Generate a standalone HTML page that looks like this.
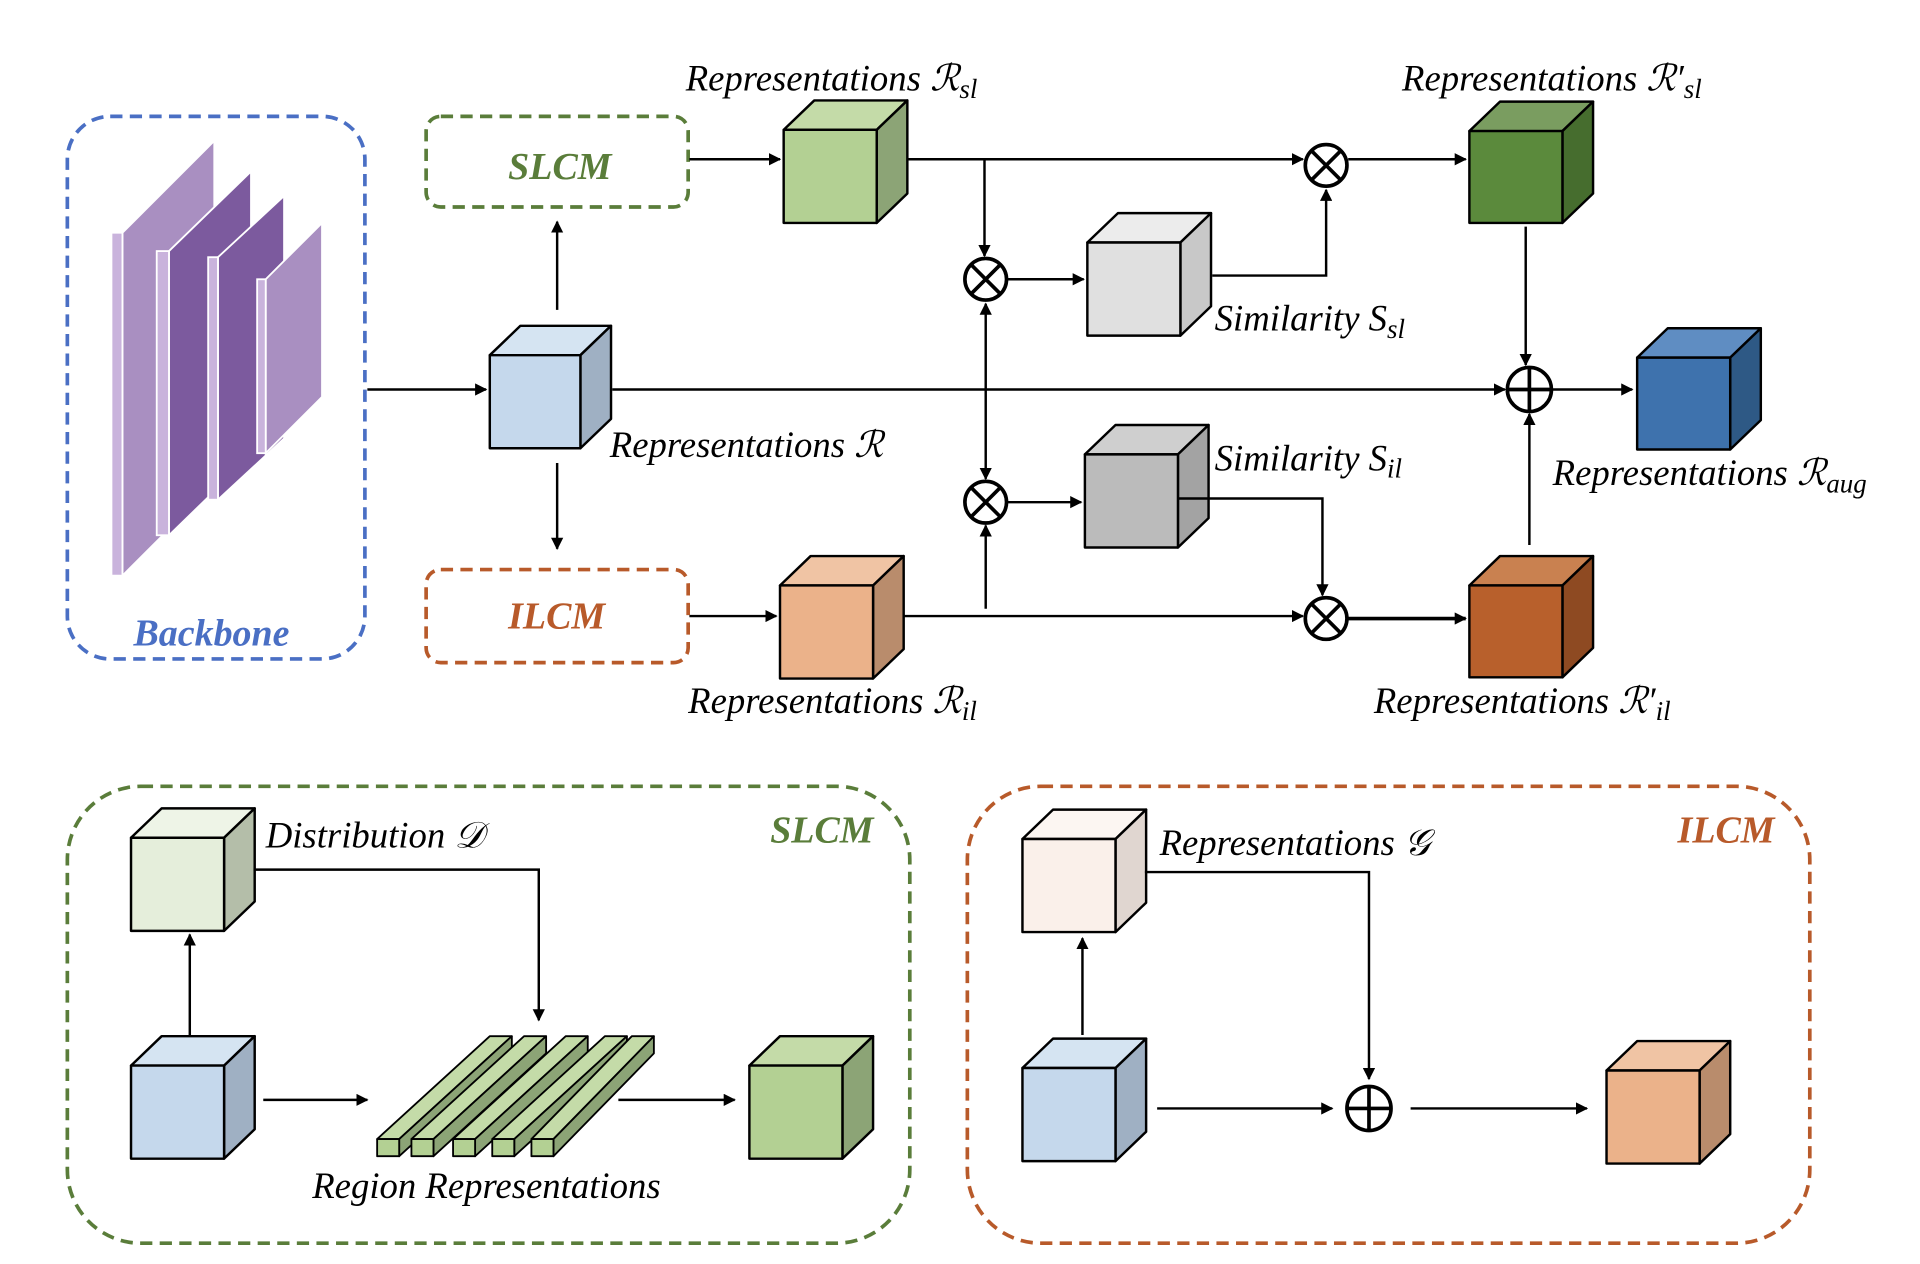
<!DOCTYPE html>
<html><head><meta charset="utf-8"><style>html,body{margin:0;padding:0;background:#fff}svg{display:block}
text{font-family:"Liberation Serif","DejaVu Serif",serif;font-style:italic;font-size:30px;fill:#000}
.b{font-weight:bold;font-size:31px}</style></head><body>
<svg width="1920" height="1264" viewBox="0 0 1568 1032" preserveAspectRatio="none" xmlns="http://www.w3.org/2000/svg">
<defs><marker id="a" markerWidth="10" markerHeight="10" refX="9" refY="5" orient="auto" markerUnits="userSpaceOnUse"><path d="M0,0 L10,5 L0,10 z" fill="#000"/></marker></defs>
<g fill="none" stroke-width="3" stroke-dasharray="10 6">
<rect x="55" y="95" width="243" height="443" rx="35" stroke="#4a6fc4"/>
<rect x="348" y="95" width="214" height="74" rx="12" stroke="#5a7d3a"/>
<rect x="348" y="465" width="214" height="76" rx="12" stroke="#b85a2a"/>
<rect x="55" y="642" width="688" height="373" rx="60" stroke="#5a7d3a"/>
<rect x="790" y="642" width="688" height="373" rx="60" stroke="#b85a2a"/>
</g>
<g stroke="#fff" stroke-width="1.5">
<polygon points="100,190 175,115 175,395 100,470" fill="#a98fc1"/><rect x="91" y="190" width="9" height="280" fill="#c9b3dc"/>
<polygon points="138,205 205,140 205,372 138,437" fill="#7c5a9e"/><rect x="128" y="205" width="10" height="232" fill="#c9b3dc"/>
<polygon points="178,210 232,160 232,358 178,408" fill="#7c5a9e"/><rect x="170" y="210" width="8" height="198" fill="#c9b3dc"/>
<polygon points="217,228 263,182 263,324 217,370" fill="#a98fc1"/><rect x="210" y="228" width="7" height="142" fill="#c9b3dc"/>
</g>
<g stroke="#000" stroke-width="2" stroke-linejoin="round">
<polygon points="400,290 425,266 499,266 474,290" fill="#d5e4f2"/><polygon points="474,290 499,266 499,342 474,366" fill="#9fb0c3"/><rect x="400" y="290" width="74" height="76" fill="#c5d8ec"/>
<polygon points="640,106 665,82 741,82 716,106" fill="#c4dba8"/><polygon points="716,106 741,82 741,158 716,182" fill="#8ca476"/><rect x="640" y="106" width="76" height="76" fill="#b3d093"/>
<polygon points="1200,107 1225,83 1301,83 1276,107" fill="#7a9d60"/><polygon points="1276,107 1301,83 1301,158 1276,182" fill="#466d2e"/><rect x="1200" y="107" width="76" height="75" fill="#5b8a3c"/>
<polygon points="888,198 913,174 989,174 964,198" fill="#ececec"/><polygon points="964,198 989,174 989,250 964,274" fill="#c8c8c8"/><rect x="888" y="198" width="76" height="76" fill="#e0e0e0"/>
<polygon points="886,371 911,347 987,347 962,371" fill="#cfcfcf"/><polygon points="962,371 987,347 987,423 962,447" fill="#a3a3a3"/><rect x="886" y="371" width="76" height="76" fill="#bbbbbb"/>
<polygon points="637,478 662,454 738,454 713,478" fill="#f0c4a4"/><polygon points="713,478 738,454 738,530 713,554" fill="#b98c6c"/><rect x="637" y="478" width="76" height="76" fill="#ebb28a"/>
<polygon points="1200,478 1225,454 1301,454 1276,478" fill="#c98150"/><polygon points="1276,478 1301,454 1301,529 1276,553" fill="#8e4a22"/><rect x="1200" y="478" width="76" height="75" fill="#b8602c"/>
<polygon points="1337,292 1362,268 1438,268 1413,292" fill="#5f8dc2"/><polygon points="1413,292 1438,268 1438,343 1413,367" fill="#2e5985"/><rect x="1337" y="292" width="76" height="75" fill="#3e72ad"/>
<polygon points="107,684 132,660 208,660 183,684" fill="#eef4e7"/><polygon points="183,684 208,660 208,736 183,760" fill="#b4bea9"/><rect x="107" y="684" width="76" height="76" fill="#e5eedb"/>
<polygon points="107,870 132,846 208,846 183,870" fill="#d5e4f2"/><polygon points="183,870 208,846 208,922 183,946" fill="#9fb0c3"/><rect x="107" y="870" width="76" height="76" fill="#c5d8ec"/>
<polygon points="612,870 637,846 713,846 688,870" fill="#c4dba8"/><polygon points="688,870 713,846 713,922 688,946" fill="#8ca476"/><rect x="612" y="870" width="76" height="76" fill="#b3d093"/>
<polygon points="835,685 860,661 936,661 911,685" fill="#fcf6f2"/><polygon points="911,685 936,661 936,737 911,761" fill="#e0d6d0"/><rect x="835" y="685" width="76" height="76" fill="#faf0ea"/>
<polygon points="835,872 860,848 936,848 911,872" fill="#d5e4f2"/><polygon points="911,872 936,848 936,924 911,948" fill="#9fb0c3"/><rect x="835" y="872" width="76" height="76" fill="#c5d8ec"/>
<polygon points="1312,874 1337,850 1413,850 1388,874" fill="#f0c4a4"/><polygon points="1388,874 1413,850 1413,926 1388,950" fill="#b98c6c"/><rect x="1312" y="874" width="76" height="76" fill="#ebb28a"/>
<g stroke-width="1.5">
<polygon points="308,930 400,846 418,846 326,930" fill="#c4dba8"/><polygon points="326,930 418,846 418,860 326,944" fill="#8ca476"/><rect x="308" y="930" width="18" height="14" fill="#b3d093"/>
<polygon points="336,930 428,846 446,846 354,930" fill="#c4dba8"/><polygon points="354,930 446,846 446,860 354,944" fill="#8ca476"/><rect x="336" y="930" width="18" height="14" fill="#b3d093"/>
<polygon points="370,930 462,846 480,846 388,930" fill="#c4dba8"/><polygon points="388,930 480,846 480,860 388,944" fill="#8ca476"/><rect x="370" y="930" width="18" height="14" fill="#b3d093"/>
<polygon points="402,930 494,846 512,846 420,930" fill="#c4dba8"/><polygon points="420,930 512,846 512,860 420,944" fill="#8ca476"/><rect x="402" y="930" width="18" height="14" fill="#b3d093"/>
<polygon points="434,930 516,846 534,846 452,930" fill="#c4dba8"/><polygon points="452,930 534,846 534,860 452,944" fill="#8ca476"/><rect x="434" y="930" width="18" height="14" fill="#b3d093"/>
</g>
</g>
<g stroke="#000" stroke-width="3" fill="#fff">
<circle cx="805" cy="228" r="17"/><path d="M793,216 L817,240 M817,216 L793,240"/>
<circle cx="805" cy="410" r="17"/><path d="M793,398 L817,422 M817,398 L793,422"/>
<circle cx="1083" cy="135" r="17"/><path d="M1071,123 L1095,147 M1095,123 L1071,147"/>
<circle cx="1083" cy="505" r="17"/><path d="M1071,493 L1095,517 M1095,493 L1071,517"/>
<circle cx="1249" cy="318" r="18"/><path d="M1231,318 L1267,318 M1249,300 L1249,336"/>
<circle cx="1118" cy="905" r="18"/><path d="M1100,905 L1136,905 M1118,887 L1118,923"/>
</g>
<g stroke="#000" stroke-width="2" fill="none" marker-end="url(#a)">
<path d="M300,318 L397,318"/><path d="M455,253 L455,181"/><path d="M455,378 L455,448"/>
<path d="M563,130 L637,130"/><path d="M563,503 L634,503"/>
<path d="M741,130 L1064,130"/><path d="M804,130 L804,209"/>
<path d="M822,228 L885,228"/><path d="M990,225 L1083,225 L1083,155"/>
<path d="M1101,130 L1197,130"/><path d="M1246,185 L1246,298"/>
<path d="M500,318 L1229,318"/><path d="M1268,318 L1333,318"/>
<path d="M1249,445 L1249,338"/>
<path d="M738,503 L1064,503"/><path d="M805,497 L805,429"/>
<path d="M805,318 L805,248"/><path d="M805,318 L805,391"/>
<path d="M822,410 L883,410"/><path d="M962,407 L1080,407 L1080,486"/>
<path d="M1101,505 L1197,505" stroke-width="3"/>
<path d="M155,845 L155,763"/><path d="M207,710 L440,710 L440,833"/>
<path d="M215,898 L300,898"/><path d="M505,898 L600,898"/>
<path d="M884,845 L884,766"/><path d="M935,712 L1118,712 L1118,881"/>
<path d="M945,905 L1088,905"/><path d="M1152,905 L1296,905"/>
</g>
<text x="109" y="527" class="b" style="fill:#4a6fc4">Backbone</text>
<text x="415" y="146" class="b" style="fill:#5a7d3a">SLCM</text>
<text x="415" y="513" class="b" style="fill:#b85a2a">ILCM</text>
<text x="629" y="688" class="b" style="fill:#5a7d3a">SLCM</text>
<text x="1370" y="688" class="b" style="fill:#b85a2a">ILCM</text>
<text x="560" y="74">Representations ℛ<tspan font-size="22" dy="6">sl</tspan></text>
<text x="1145" y="74">Representations ℛ′<tspan font-size="22" dy="6">sl</tspan></text>
<text x="992" y="270">Similarity S<tspan font-size="22" dy="6">sl</tspan></text>
<text x="498" y="373">Representations ℛ</text>
<text x="992" y="384">Similarity S<tspan font-size="22" dy="6">il</tspan></text>
<text x="1268" y="396">Representations ℛ<tspan font-size="22" dy="6">aug</tspan></text>
<text x="562" y="582">Representations ℛ<tspan font-size="22" dy="6">il</tspan></text>
<text x="1122" y="582">Representations ℛ′<tspan font-size="22" dy="6">il</tspan></text>
<text x="217" y="692">Distribution 𝒟</text>
<text x="947" y="698">Representations 𝒢</text>
<text x="255" y="978">Region Representations</text>
</svg>
</body></html>
